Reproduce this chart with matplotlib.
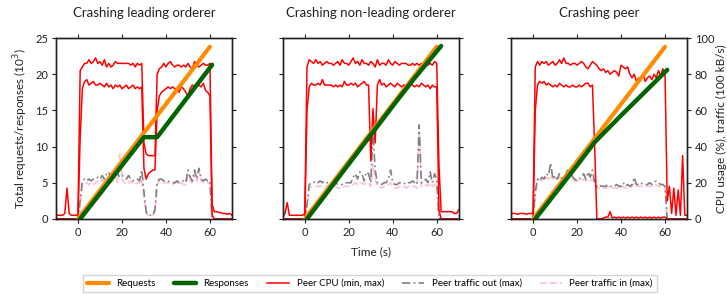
import matplotlib
matplotlib.use("Agg")
import matplotlib.pyplot as plt
import numpy as np

# ---------------- data ----------------
titles = ["Crashing leading orderer", "Crashing non-leading orderer", "Crashing peer"]
t = list(range(-10, 71))  # seconds

# Requests / responses (10^3), knots
req_t = [0, 10, 20, 30, 40, 50, 60]
req_v = [0.0, 3.97, 7.93, 11.9, 15.87, 19.83, 23.8]

resp1_t = [1, 10, 20, 30, 36, 40, 50, 61]
resp1_v = [0.0, 3.5, 7.4, 11.3, 11.3, 12.9, 16.9, 21.3]
resp2_t = [1, 10, 20, 30, 40, 50, 62]
resp2_v = [0.0, 3.6, 7.6, 11.6, 15.6, 19.5, 23.9]
resp3_t = [1, 10, 20, 28, 40, 50, 61]
resp3_v = [0.0, 3.5, 7.4, 10.6, 14.3, 17.3, 20.6]

# Peer CPU (%) per second, t = -10 .. 70
cpu1_max = [2, 2, 2, 2, 3, 17, 3, 2, 2, 2,
            2, 82, 84, 86, 86, 88, 86, 87, 89, 86,
            87, 85, 88, 84, 86, 84, 85, 87, 86, 86,
            86, 86, 86, 86, 85, 86, 84, 86, 85, 86,
            42, 36, 35, 35, 35, 35, 80, 83, 84, 86,
            84, 86, 87, 85, 84, 85, 85, 84, 85, 84,
            86, 84, 83, 87, 85, 84, 85, 86, 85, 85,
            86, 8, 4, 4, 3.5, 3.5, 3, 3, 2.5, 3, 2]
cpu1_min = [0, 0, 0, 0, 0, 0, 0, 0, 0, 0,
            0, 45, 72, 76, 77, 74, 75, 76, 74, 74,
            75, 74, 73, 75, 73, 74, 72, 74, 73, 74,
            72, 73, 74, 72, 73, 74, 72, 73, 72, 73,
            28, 22, 25, 26, 27, 27, 60, 68, 70, 71,
            72, 73, 72, 73, 72, 72, 70, 73, 72, 70,
            68, 72, 74, 73, 75, 74, 73, 75, 71, 70,
            68, 2, 0, 0, 0, 0, 0, 0, 0, 0, 0]
cpu2_max = [1, 3, 9, 2, 2, 2, 2, 2, 2, 2,
            3, 84, 88, 87, 86, 88, 86, 87, 85, 86,
            87, 86, 86, 85, 86, 87, 85, 88, 86, 86,
            85, 87, 89, 86, 87, 85, 88, 86, 86, 85,
            87, 86, 84, 88, 85, 86, 86, 85, 88, 86,
            85, 87, 86, 85, 86, 86, 86, 85, 85, 86,
            85, 86, 85, 86, 85, 86, 85, 86, 85, 87,
            86, 30, 4, 4, 4, 4, 4, 4, 3, 3, 5]
cpu2_min = [0, 0, 0, 0, 0, 0, 0, 0, 0, 0,
            0, 60, 73, 75, 74, 74, 75, 74, 77, 74,
            74, 74, 74, 73, 74, 73, 74, 73, 76, 74,
            74, 75, 74, 75, 73, 74, 75, 76, 74, 74,
            32, 61, 42, 74, 77, 74, 75, 73, 74, 75,
            74, 73, 75, 74, 73, 74, 74, 73, 75, 74,
            73, 74, 73, 75, 74, 73, 74, 72, 74, 73,
            73, 5, 0, 0, 0, 0, 0, 0, 0, 0, 0]
cpu3_max = [3, 3, 3, 2.5, 3, 3, 3, 2.5, 3, 3,
            3, 84, 87, 85, 87, 86, 87, 85, 86, 87,
            85, 86, 88, 86, 89, 86, 86, 85, 86, 86,
            85, 86, 87, 86, 84, 83, 85, 87, 86, 85,
            83, 82, 83, 81, 82, 80, 81, 82, 81, 79,
            85, 84, 83, 84, 80, 78, 80, 76, 78, 77,
            80, 76, 78, 79, 77, 80, 78, 82, 79, 83,
            80, 10, 18, 3, 17, 2, 16, 2, 35, 2, 2]
cpu3_min = [0, 0, 0, 0, 0, 0, 0, 0, 0, 0,
            0, 60, 74, 76, 75, 76, 74, 75, 74, 73,
            74, 73, 75, 74, 73, 74, 73, 73, 74, 73,
            73, 74, 73, 74, 75, 75, 73, 74, 40, 0,
            0, 0, 0.5, 1, 1, 4, 0.5, 1, 0.5, 1,
            0.5, 1, 0.5, 1, 0.5, 1, 0.5, 1, 0.5, 1,
            0.5, 1, 0.5, 1, 0.5, 1, 0.5, 1, 0.5, 1,
            1, 0, 0, 0, 0, 0, 0, 0, 0, 0, 0]

# Peer traffic (100 kB/s, shown on the % axis scale)
out1 = [0, 0, 0, 0, 0, 0, 0, 0, 0, 0,
        0, 10, 21, 22, 21, 22, 21, 22, 22, 23,
        22, 24, 22, 25, 26, 22, 24, 27, 25, 23,
        24, 23, 22, 24, 22, 21, 22, 22, 21, 27,
        15, 4, 2, 2, 2, 5, 20, 22, 22, 21,
        21, 21, 20, 20, 20, 21, 20, 21, 21, 20,
        27, 23, 21, 27, 22, 28, 22, 21, 22, 21,
        21, 0, 0, 0, 0, 0, 0, 0, 0, 0, 0]
in1 = [0, 0, 0, 0, 0, 0, 0, 0, 0, 0,
       0, 8, 19, 19, 20, 19, 20, 19, 20, 21,
       20, 22, 20, 21, 24, 20, 21, 23, 20, 36,
       22, 20, 19, 20, 21, 20, 19, 20, 20, 22,
       12, 3, 2, 2, 2, 4, 19, 21, 21, 20,
       20, 20, 19, 19, 20, 20, 19, 20, 19, 19,
       24, 21, 20, 25, 21, 27, 21, 20, 20, 20,
       20, 0, 0, 0, 0, 0, 0, 0, 0, 0, 0]
out2 = [0, 0, 0, 0, 0, 0, 0, 0, 0, 0,
        0, 8, 19, 20, 20, 21, 20, 21, 20, 21,
        20, 20, 19, 20, 20, 19, 19, 19, 20, 20,
        20, 20, 23, 25, 22, 26, 25, 21, 26, 25,
        20, 48, 27, 20, 20, 19, 20, 20, 22, 27,
        20, 19, 19, 20, 20, 20, 19, 20, 20, 21,
        20, 19, 52, 20, 20, 22, 20, 26, 20, 25,
        22, 0, 0, 0, 0, 0, 0, 0, 0, 0, 0]
in2 = [0, 0, 0, 0, 0, 0, 0, 0, 0, 0,
       0, 7, 17, 18, 18, 18, 18, 18, 18, 18,
       18, 18, 17, 18, 18, 17, 17, 17, 18, 18,
       18, 18, 19, 20, 19, 20, 20, 19, 20, 20,
       18, 30, 22, 18, 18, 17, 18, 18, 19, 20,
       18, 17, 17, 18, 18, 18, 17, 18, 18, 18,
       18, 17, 48, 18, 18, 19, 18, 20, 18, 19,
       19, 0, 0, 0, 0, 0, 0, 0, 0, 0, 0]
out3 = [0, 0, 0, 0, 0, 0, 0, 0, 0, 0,
        0, 15, 22, 21, 23, 22, 25, 24, 31, 22,
        24, 22, 25, 23, 22, 25, 28, 26, 23, 22,
        21, 22, 23, 25, 22, 26, 23, 27, 20, 18,
        19, 18, 18, 18, 19, 18, 18, 18, 19, 18,
        18, 20, 18, 19, 18, 19, 23, 19, 19, 20,
        19, 19, 19, 20, 19, 20, 21, 20, 19, 19,
        18, 0, 0, 0, 0, 0, 0, 0, 0, 0, 0]
in3 = [0, 0, 0, 0, 0, 0, 0, 0, 0, 0,
       0, 12, 21, 22, 21, 22, 23, 22, 24, 22,
       23, 22, 23, 22, 21, 23, 24, 23, 22, 21,
       21, 21, 21, 22, 21, 22, 21, 22, 19, 17,
       17, 17, 17, 17, 18, 17, 17, 17, 17, 17,
       17, 18, 17, 17, 17, 18, 20, 18, 18, 18,
       18, 18, 18, 18, 18, 19, 19, 18, 18, 18,
       17, 0, 0, 0, 0, 0, 0, 0, 0, 0, 0]

resp_t = [resp1_t, resp2_t, resp3_t]
resp_v = [resp1_v, resp2_v, resp3_v]
cpu_max = [cpu1_max, cpu2_max, cpu3_max]
cpu_min = [cpu1_min, cpu2_min, cpu3_min]
t_out = [out1, out2, out3]
t_in = [in1, in2, in3]

# ---------------- plot ----------------
plt.rcParams['font.family'] = ['Lato', 'DejaVu Sans']
plt.rcParams['font.size'] = 8
fig = plt.figure(figsize=(7.27, 2.95), dpi=100)

lefts = [0.077, 0.389, 0.703]
width, bottom, height = 0.242, 0.258, 0.613
col_req = "#ff8c00"
col_resp = "#006400"
col_cpu = "#ff0000"
col_out = "#808080"
col_in = "#ffc0cb"
txt = "#222222"

handles = None
for i in range(3):
    ax = fig.add_axes([lefts[i], bottom, width, height])
    tw = ax.twinx()
    ax.set_zorder(tw.get_zorder() + 1)
    ax.patch.set_visible(False)

    h_in, = tw.plot(t, t_in[i], color=col_in, lw=1.2, ls=(0, (4, 2)))
    h_out, = tw.plot(t, t_out[i], color=col_out, lw=1.2, ls=(0, (5, 2, 1, 2)))
    h_cpu, = tw.plot(t, cpu_max[i], color=col_cpu, lw=1.1)
    tw.plot(t, cpu_min[i], color=col_cpu, lw=1.1)
    h_req, = ax.plot(req_t, req_v, color=col_req, lw=3, solid_capstyle='round')
    h_resp, = ax.plot(resp_t[i], resp_v[i], color=col_resp, lw=3.2, solid_capstyle='round')

    ax.set_xlim(-10, 70)
    ax.set_ylim(0, 25)
    tw.set_ylim(0, 100)
    ax.set_xticks([0, 20, 40, 60])
    ax.set_yticks([0, 5, 10, 15, 20, 25])
    tw.set_yticks([0, 20, 40, 60, 80, 100])
    ax.tick_params(top=True, direction='out', length=3, width=0.8, colors=txt, labelsize=8, pad=2.5)
    tw.tick_params(direction='out', length=3, width=0.8, colors=txt, labelsize=8, pad=2.5)
    ax.tick_params(axis='x', labeltop=False)
    if i != 0:
        ax.tick_params(axis='y', labelleft=False)
    if i != 2:
        tw.tick_params(axis='y', labelright=False)
    for a in (ax, tw):
        for s in a.spines.values():
            s.set_color(txt)
            s.set_linewidth(1.0)
    ax.set_title(titles[i], fontsize=9.5, pad=15, color=txt)
    if i == 0:
        ax.set_ylabel("Total requests/responses (10$^3$)", fontsize=8.5, color=txt, labelpad=4)
    if i == 1:
        ax.set_xlabel("Time (s)", fontsize=8.5, color=txt, labelpad=6)
    if i == 2:
        tw.set_ylabel("CPU usage (%), traffic (100 kB/s)", fontsize=8.5, color=txt, labelpad=1.5)
    handles = [h_req, h_resp, h_cpu, h_out, h_in]

labels = ["Requests", "Responses", "Peer CPU (min, max)", "Peer traffic out (max)", "Peer traffic in (max)"]
fig.legend(handles, labels, loc='center', bbox_to_anchor=(0.509, 0.039), ncol=5,
           fontsize=7, frameon=True, handlelength=2.2, columnspacing=1.9,
           fancybox=False, edgecolor='#cccccc', borderpad=0.4)

fig.savefig("out.png", dpi=100)
